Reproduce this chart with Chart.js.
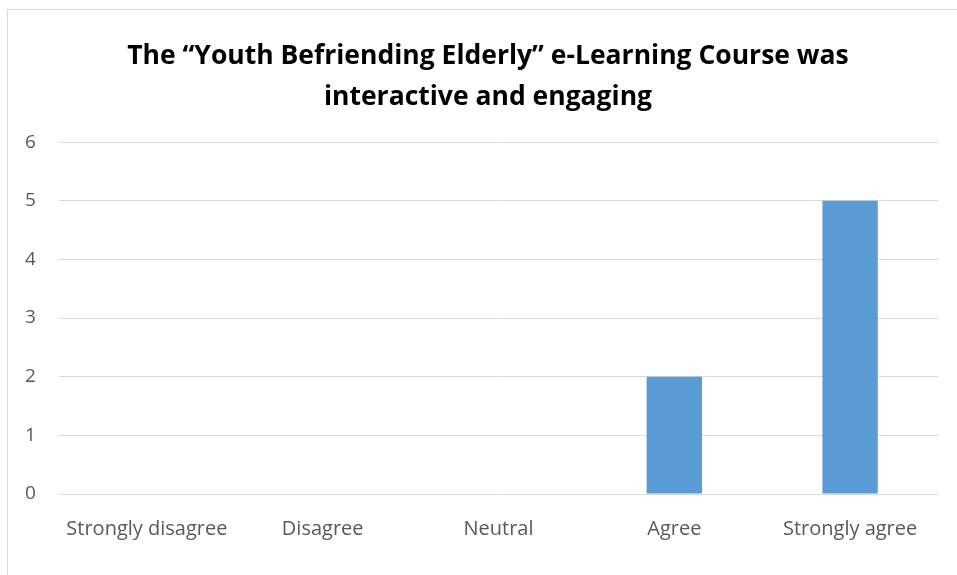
<!DOCTYPE html>
<html>
<head>
<meta charset="utf-8">
<script src="https://cdn.jsdelivr.net/npm/chart.js@4"></script>
<style>
  html, body { margin: 0; padding: 0; background: #fff; }
  #wrap { position: relative; width: 957px; height: 575px; overflow: hidden; }
</style>
</head>
<body>
<div id="wrap"><canvas id="myChart" width="957" height="575"></canvas></div>
<script>
const categories = ["Strongly disagree", "Disagree", "Neutral", "Agree", "Strongly agree"];
const responses = [0, 0, 0, 2, 5];
const yMin = 0;
const yMax = 6;
const yStep = 1;
const titleLines = ["The \u201cYouth Befriending Elderly\u201d e-Learning Course was", "interactive and engaging"];

// light frame around the chart, as in the original office chart
const framePlugin = {
    id: 'frame',
    beforeDraw(chart) {
        const ctx = chart.ctx;
        ctx.save();
        ctx.fillStyle = '#fff';
        ctx.fillRect(0, 0, chart.width, chart.height);
        ctx.strokeStyle = '#d9d9d9';
        ctx.lineWidth = 1;
        ctx.strokeRect(7.5, 9.5, 1000, 1000);
        ctx.restore();
    }
};

new Chart("myChart", {
    type: "bar",
    data: {
        labels: categories,
        datasets: [{
            data: responses,
            backgroundColor: "#5B9BD5",
            barPercentage: 0.63,
            categoryPercentage: 0.5,
        }],
    },
    options: {
        responsive: false,
        animation: false,
        layout: { padding: { left: 38, right: 19, top: 0, bottom: 0 } },
        plugins: {
            legend: { display: false },
            tooltip: { enabled: false },
            title: {
                display: true,
                text: titleLines,
                color: "#000",
                font: { family: "'Open Sans'", size: 26.5, weight: "bold", lineHeight: 1.55 },
                padding: { top: 36, bottom: 24 },
            },
        },
        scales: {
            x: {
                grid: { display: false },
                border: { display: false },
                ticks: {
                    color: "#595959",
                    font: { family: "'Open Sans'", size: 20 },
                    padding: 15,
                    maxRotation: 0,
                },
                afterFit(scale) { scale.height = 81; },
            },
            y: {
                min: yMin,
                max: yMax,
                grid: { color: "#d9d9d9", lineWidth: 1, drawTicks: false },
                border: { display: false },
                ticks: {
                    stepSize: yStep,
                    color: "#595959",
                    font: { family: "'Open Sans'", size: 19 },
                    // mirrored so the labels are not clipped to the narrow scale box
                    mirror: true,
                    padding: -34,
                },
                afterFit(scale) { scale.width = 21; },
            },
        },
    },
    plugins: [framePlugin],
});
</script>
</body>
</html>
